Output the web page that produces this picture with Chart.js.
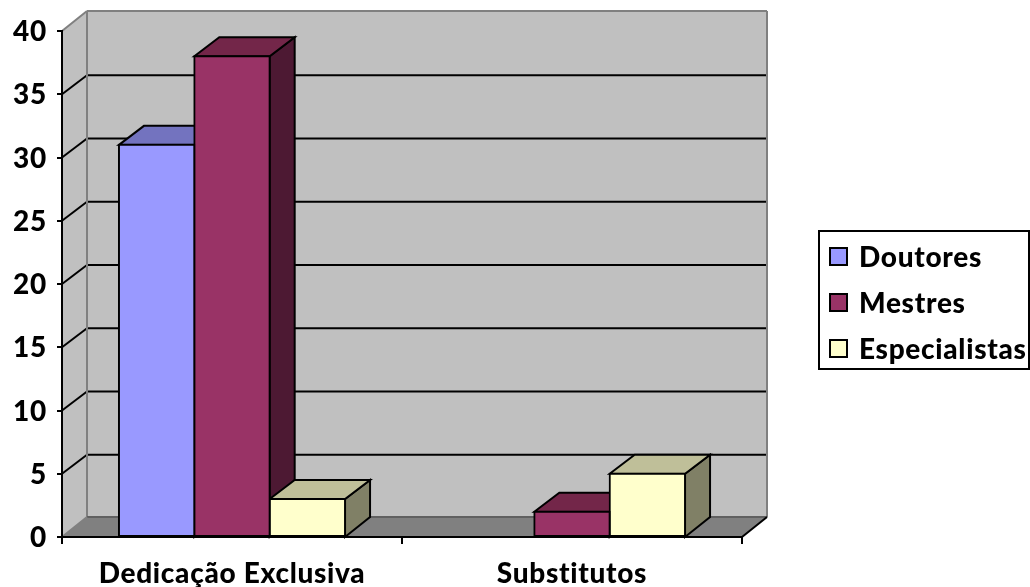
<!DOCTYPE html>
<html>
<head>
<meta charset="utf-8">
<script src="https://cdn.jsdelivr.net/npm/chart.js@4"></script>
<style>
  html, body { margin: 0; padding: 0; background: #fff; }
  canvas { display: block; }
</style>
</head>
<body>
<canvas id="chart" width="1030" height="587"></canvas>
<script>
const categories = ['Dedicação Exclusiva', 'Substitutos'];
const seriesNames = ['Doutores', 'Mestres', 'Especialistas'];
const doutores = [31, 0];
const mestres = [38, 2];
const especialistas = [3, 5];
const yTicks = [0, 5, 10, 15, 20, 25, 30, 35, 40];

const FONT_FAMILY = 'Lato';
const FONT_WEIGHT = '900';
const FONT_SIZE = 28;
const WALL_DX = 25;
const WALL_DY = -20;
const GRID_DY = -19;
const BAR_DX = 25;
const BAR_DY = -19;

const FRONT = ['#9999FF', '#993366', '#FFFFCC'];
const TOP = ['#7373BF', '#732649', '#BFBF99'];
const SIDE = ['#4D4D80', '#4D1933', '#808066'];

function poly(ctx, pts, fill, stroke, width) {
  ctx.beginPath();
  pts.forEach((p, i) => (i ? ctx.lineTo(p[0], p[1]) : ctx.moveTo(p[0], p[1])));
  ctx.closePath();
  if (fill) {
    ctx.fillStyle = fill;
    ctx.fill();
  }
  if (stroke) {
    ctx.strokeStyle = stroke;
    ctx.lineWidth = width || 2;
    ctx.stroke();
  }
}

function line(ctx, x1, y1, x2, y2, color, width) {
  ctx.beginPath();
  ctx.moveTo(x1, y1);
  ctx.lineTo(x2, y2);
  ctx.strokeStyle = color;
  ctx.lineWidth = width || 2;
  ctx.stroke();
}

// back wall, left wall, floor and the gridlines that wrap around them
const wallsPlugin = {
  id: 'walls',
  beforeDraw(chart) {
    const { ctx, chartArea: a, scales: { y } } = chart;
    const dx = WALL_DX, dy = WALL_DY;
    ctx.letterSpacing = '0.7px'; // set outside save() so the axis labels get it too
    ctx.save();
    poly(ctx, [[a.left + dx, a.top + dy], [a.right + dx, a.top + dy], [a.right + dx, a.bottom + dy], [a.left + dx, a.bottom + dy]], '#C0C0C0');
    poly(ctx, [[a.left, a.top], [a.left + dx, a.top + dy], [a.left + dx, a.bottom + dy], [a.left, a.bottom]], '#C0C0C0');
    poly(ctx, [[a.left, a.bottom], [a.left + dx, a.bottom + dy], [a.right + dx, a.bottom + dy], [a.right, a.bottom]], '#808080');

    yTicks.forEach(v => {
      if (v === 0 || v === 40) return;
      const py = y.getPixelForValue(v);
      line(ctx, a.left, py, a.left + dx, py + GRID_DY, '#000');
      line(ctx, a.left + dx, py + GRID_DY, a.right + dx, py + GRID_DY, '#000');
    });

    line(ctx, a.left, a.top, a.left + dx, a.top + dy, '#808080');
    line(ctx, a.left + dx, a.top + dy, a.right + dx, a.top + dy, '#808080');
    line(ctx, a.left + dx, a.top + dy, a.left + dx, a.bottom + dy, '#808080');
    line(ctx, a.right + dx, a.top + dy, a.right + dx, a.bottom + dy, '#808080');
    line(ctx, a.left + dx, a.bottom + dy, a.right + dx, a.bottom + dy, '#606060');
    line(ctx, a.left, a.bottom, a.left + dx, a.bottom + dy, '#808080');
    line(ctx, a.right, a.bottom, a.right + dx, a.bottom + dy, '#000');
    ctx.restore();
  },
  // top and side faces of each bar; the library paints the front face after this
  beforeDatasetsDraw(chart) {
    const { ctx, scales: { y } } = chart;
    const base = y.getPixelForValue(0);
    ctx.save();
    ctx.lineJoin = 'miter';
    chart.data.labels.forEach((_, c) => {
      chart.data.datasets.forEach((ds, i) => {
        if (!ds.data[c]) return;
        const bar = chart.getDatasetMeta(i).data[c];
        const l = bar.x - bar.width / 2;
        const r = bar.x + bar.width / 2;
        const t = bar.y;
        poly(ctx, [[r, t], [r + BAR_DX, t + BAR_DY], [r + BAR_DX, base + WALL_DY], [r, base]], SIDE[i], '#000');
        poly(ctx, [[l, t], [l + BAR_DX, t + BAR_DY], [r + BAR_DX, t + BAR_DY], [r, t]], TOP[i], '#000');
      });
    });
    ctx.restore();
  },
  // legend box on the right
  afterDraw(chart) {
    const { ctx } = chart;
    ctx.save();
    ctx.strokeStyle = '#000';
    ctx.lineWidth = 2;
    ctx.fillStyle = '#fff';
    ctx.fillRect(819, 231, 210, 138);
    ctx.strokeRect(819, 231, 210, 138);
    ctx.font = FONT_WEIGHT + ' ' + FONT_SIZE + 'px ' + FONT_FAMILY;
    ctx.textBaseline = 'middle';
    chart.data.datasets.forEach((ds, i) => {
      const cy = 257 + i * 46;
      ctx.fillStyle = FRONT[i];
      ctx.fillRect(830, cy - 9, 17, 17);
      ctx.strokeRect(830, cy - 9, 17, 17);
      ctx.fillStyle = '#000';
      ctx.fillText(ds.label, 859, cy + 1);
    });
    ctx.restore();
  }
};

new Chart(document.getElementById('chart'), {
  type: 'bar',
  data: {
    labels: categories,
    datasets: [doutores, mestres, especialistas].map((values, i) => ({
      label: seriesNames[i],
      data: values,
      backgroundColor: FRONT[i],
      borderColor: '#000',
      borderWidth: 2,
      borderSkipped: false,
      inflateAmount: 1,
      categoryPercentage: 0.665,
      barPercentage: 1
    }))
  },
  options: {
    responsive: false,
    animation: false,
    layout: { padding: { top: 31, right: 288 } },
    plugins: {
      legend: { display: false },
      tooltip: { enabled: false }
    },
    scales: {
      x: {
        afterFit: s => { s.height = 50; },
        border: { color: '#000', width: 2 },
        grid: { drawOnChartArea: false, color: '#000', lineWidth: 2, tickLength: 7 },
        ticks: { color: '#000', font: { family: FONT_FAMILY, weight: FONT_WEIGHT, size: FONT_SIZE }, padding: 13, maxRotation: 0 }
      },
      y: {
        min: 0,
        max: 40,
        afterFit: s => { s.width = 62; },
        afterBuildTicks: s => { s.ticks = yTicks.map(value => ({ value })); },
        border: { color: '#000', width: 2 },
        grid: { drawOnChartArea: false, color: '#000', lineWidth: 2, tickLength: 5 },
        ticks: { color: '#000', font: { family: FONT_FAMILY, weight: FONT_WEIGHT, size: FONT_SIZE }, padding: 10, labelOffset: 1 }
      }
    }
  },
  plugins: [wallsPlugin]
});
</script>
</body>
</html>
